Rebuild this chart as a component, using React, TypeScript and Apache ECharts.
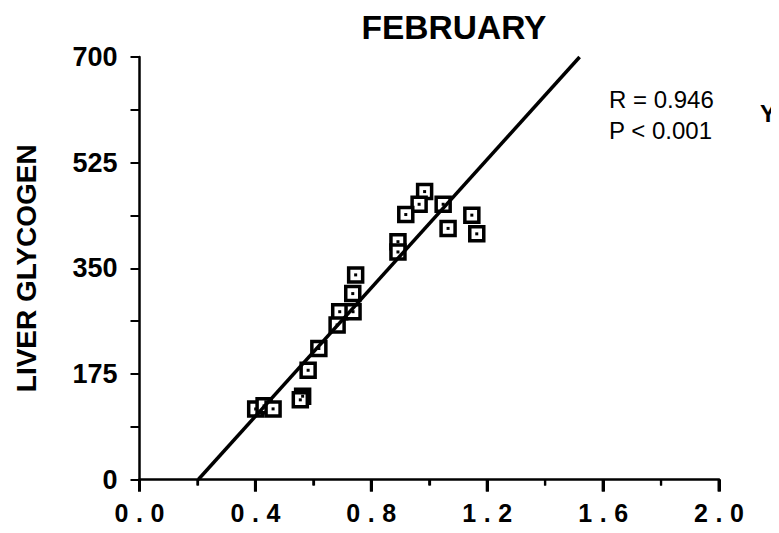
import React, { useEffect, useRef } from "react";
import * as echarts from "echarts";

// Liver glycogen sample points (x = predictor, y = glycogen)
const sampleX = [
  0.984, 0.965, 0.919, 1.048, 1.065, 1.147, 1.164, 0.892, 0.892, 0.746, 0.736,
  0.691, 0.737, 0.682, 0.619, 0.582, 0.563, 0.555, 0.401, 0.43, 0.461,
];
const sampleY = [
  477, 456, 439, 456, 416, 438, 407, 394, 377, 339, 308,
  278, 278, 256, 217, 181, 138, 132, 117, 122, 117,
];

// Fitted regression line endpoints
const fitX = [0.203, 1.519];
const fitY = [0, 700];

const xTicks = ["0.0", "0.4", "0.8", "1.2", "1.6", "2.0"];
const xMinorTicks = [0.2, 0.6, 1.0, 1.4, 1.8];
const yTicks = ["0", "175", "350", "525", "700"];

const statLines = ["R = 0.946", "P < 0.001"];

const FONT = "'Liberation Sans', Arial, Helvetica, sans-serif";

export default function App() {
  const ref = useRef<HTMLDivElement>(null);

  useEffect(() => {
    if (!ref.current) return;
    const chart = echarts.init(ref.current, undefined, { renderer: "svg" });

    const points = sampleX.map((x, i) => [x, sampleY[i]]);
    const fit = fitX.map((x, i) => [x, fitY[i]]);

    // spaced-out tick digits, one fixed-width box per character
    const spaced = (s: string) =>
      s
        .split("")
        .map((c) => `{m|${c}}`)
        .join("");

    const textGraphics: any[] = [
      {
        type: "text",
        left: 609,
        top: 84,
        style: {
          text: statLines.join("\n"),
          font: `24px ${FONT}`,
          lineHeight: 31,
          fill: "#000",
        },
      },
      {
        type: "text",
        left: 760,
        top: 101,
        style: {
          text: "Y",
          font: `bold 24px ${FONT}`,
          fill: "#000",
        },
      },
    ];

    chart.setOption({
      animation: false,
      backgroundColor: "#fff",
      title: {
        text: "FEBRUARY",
        left: 449,
        top: 5,
        textAlign: "center",
        textStyle: {
          fontFamily: FONT,
          fontWeight: "bold",
          fontSize: 33.5,
          color: "#000",
        },
      },
      grid: {
        left: 139.5,
        right: 60,
        top: 57,
        bottom: 53.5,
        containLabel: false,
        outerBoundsMode: "none",
      },
      xAxis: {
        type: "value",
        min: 0,
        max: 2,
        interval: 0.4,
        axisLine: { show: true, onZero: false, lineStyle: { color: "#000", width: 2.5 } },
        axisTick: { show: true, inside: false, length: 12, lineStyle: { color: "#000", width: 3 } },
        minorTick: { show: true, splitNumber: 2, length: 6, lineStyle: { color: "#000", width: 2.2 } },
        splitLine: { show: false },
        axisLabel: {
          margin: 21,
          color: "#000",
          formatter: (v: number) => {
            const idx = Math.round(v / 0.4);
            return spaced(xTicks[idx] ?? v.toFixed(1));
          },
          rich: {
            m: {
              width: 18,
              align: "center",
              fontFamily: FONT,
              fontWeight: "bold",
              fontSize: 25,
              color: "#000",
            },
          },
        },
      },
      yAxis: {
        type: "value",
        min: 0,
        max: 700,
        interval: 175,
        name: "LIVER GLYCOGEN",
        nameLocation: "middle",
        nameGap: 99,
        nameTextStyle: {
          fontFamily: FONT,
          fontWeight: "bold",
          fontSize: 28,
          color: "#000",
        },
        axisLine: { show: true, onZero: false, lineStyle: { color: "#000", width: 2.5 } },
        axisTick: { show: true, length: 9, lineStyle: { color: "#000", width: 2 } },
        minorTick: { show: true, splitNumber: 2, length: 9, lineStyle: { color: "#000", width: 2 } },
        splitLine: { show: false },
        axisLabel: {
          margin: 22,
          color: "#000",
          fontFamily: FONT,
          fontWeight: "bold",
          fontSize: 27,
          formatter: (v: number) => yTicks[Math.round(v / 175)] ?? String(v),
        },
      },
      graphic: textGraphics,
      series: [
        {
          type: "scatter",
          data: points,
          symbol: "rect",
          symbolSize: 14,
          itemStyle: { color: "#fff", borderColor: "#000", borderWidth: 3.5, opacity: 1 },
          z: 2,
        },
        {
          type: "scatter",
          data: points,
          symbol: "rect",
          symbolSize: 3,
          itemStyle: { color: "#000", opacity: 1 },
          z: 3,
        },
        {
          type: "line",
          data: fit,
          symbol: "none",
          lineStyle: { color: "#000", width: 3.5 },
          z: 4,
        },
      ],
    });

    // x-axis tick marks placed through the axis scale, hanging below the axis line
    const tickMarks = [
      ...xTicks.map((t) => ({ v: parseFloat(t), major: true })),
      ...xMinorTicks.map((v) => ({ v, major: false })),
    ];
    const tickGraphics = tickMarks
      .map(({ v, major }) => {
        const p = chart.convertToPixel({ xAxisIndex: 0, yAxisIndex: 0 }, [v, 0]) as number[];
        if (!p || !isFinite(p[0]) || !isFinite(p[1])) return null;
        return {
          type: "line",
          z: 100,
          silent: true,
          shape: { x1: p[0], y1: p[1], x2: p[0], y2: p[1] + (major ? 12 : 6) },
          style: { stroke: "#000", lineWidth: major ? 3 : 2.2 },
        };
      })
      .filter(Boolean);
    chart.setOption({ graphic: [...textGraphics, ...tickGraphics] });

    return () => chart.dispose();
  }, []);

  return <div ref={ref} style={{ width: 779, height: 533, margin: -8 }} />;
}
